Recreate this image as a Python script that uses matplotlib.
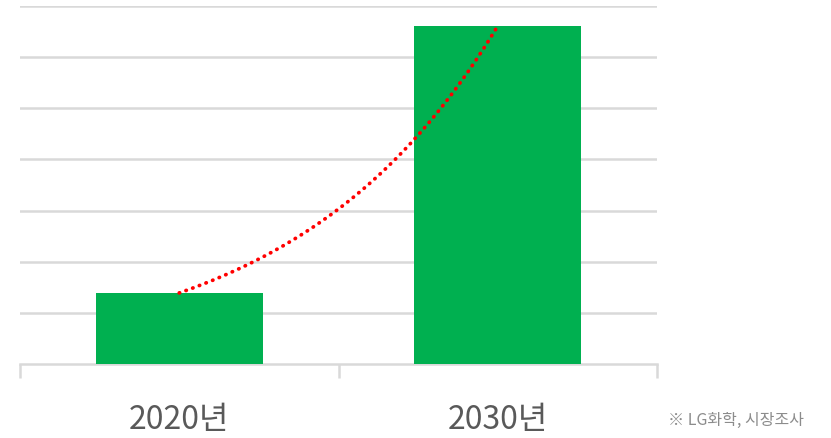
import numpy as np
import matplotlib.pyplot as plt

plt.rcParams['font.family'] = ['Noto Sans CJK KR', 'DejaVu Sans']

# data (units = gridline steps)
categories = ["2020년", "2030년"]
values = [1.39, 6.61]
source_note = "※ LG화학, 시장조사"

fig = plt.figure(figsize=(8.31, 4.38), dpi=100)
ax = fig.add_axes([20 / 831, 1 - 364 / 438, 637 / 831, 358 / 438])

x = np.arange(len(categories))
ax.bar(x, values, width=0.525, color="#00b050", zorder=3)

# exponential trendline through the bars, fitted on log values
b, a = np.polyfit(x, np.log(values), 1)
xs = np.linspace(x[0], x[-1], 200)
ax.plot(xs, np.exp(a + b * xs), color="red", linestyle=(0, (0.1, 1.8)),
        linewidth=2.7, dash_capstyle="round", zorder=4)

ax.set_xlim(-0.5, len(categories) - 0.5)
ax.set_ylim(0, 7)
ax.set_yticks(np.arange(1, 8))
ax.yaxis.grid(True, color="#d9d9d9", linewidth=1.8, zorder=0)
ax.tick_params(axis="y", length=0, labelleft=False)

for side in ["top", "right", "left"]:
    ax.spines[side].set_visible(False)
ax.spines["bottom"].set_color("#d9d9d9")
ax.spines["bottom"].set_linewidth(1.8)

# category boundary ticks below the axis
ax.set_xticks([-0.5, 0.5, 1.5], minor=True)
ax.tick_params(axis="x", which="minor", length=10, width=1.8, color="#d9d9d9")
ax.set_xticks(x)
ax.set_xticklabels(categories, fontsize=23, color="#595959")
ax.tick_params(axis="x", which="major", length=0, pad=29)

fig.text(668 / 831, 1 - 420 / 438, source_note, fontsize=11.5, color="#8c8c8c",
         va="center", ha="left")

fig.savefig("out.png", dpi=100)
